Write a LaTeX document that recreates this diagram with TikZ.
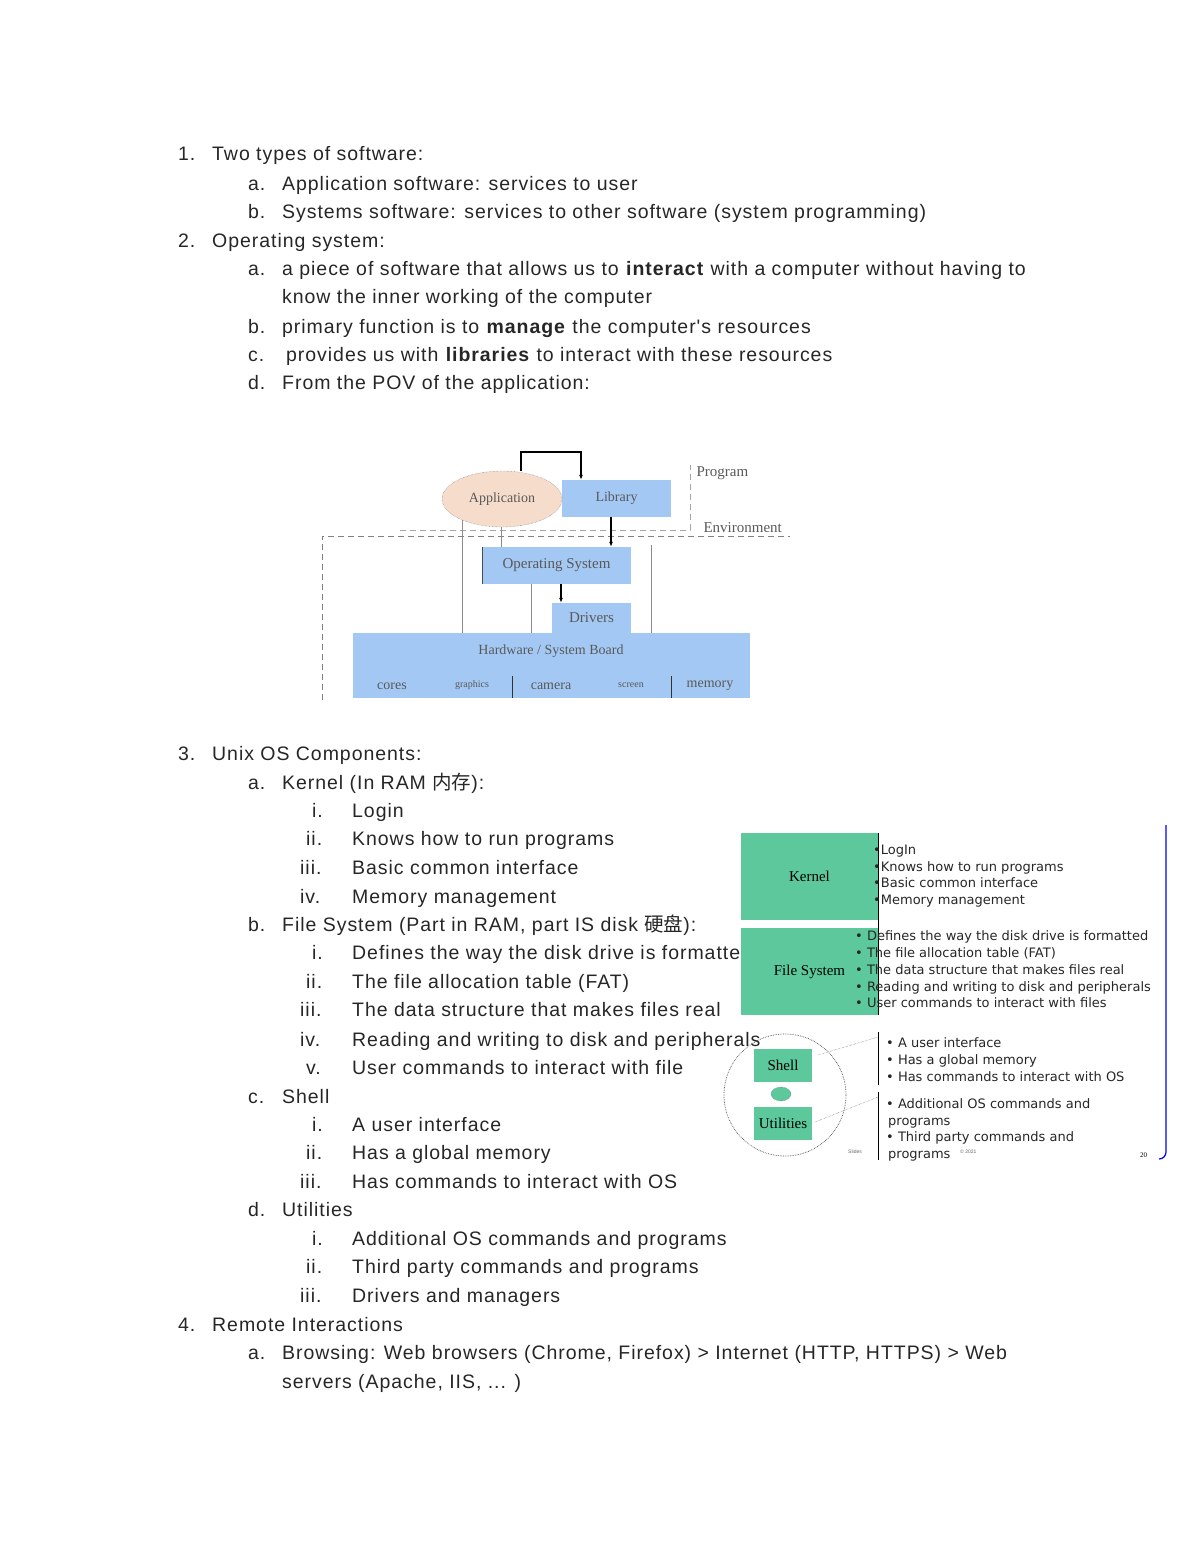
\documentclass[tikz,border=0pt]{standalone}
\usepackage{fontspec}
\usetikzlibrary{arrows.meta,shapes.geometric}
\setmainfont{Liberation Sans}
\newfontfamily\cjk{Noto Sans CJK SC}
\newfontfamily\serf{Liberation Serif}
\newfontfamily\dvs{DejaVu Sans}
\newfontfamily\wide[LetterSpace=4.9]{Liberation Sans}
\begin{document}
\begin{tikzpicture}[x=1pt,y=-1pt,
  txt/.style={anchor=base west,inner sep=0,font=\wide\fontsize{19.5}{23}\selectfont,text=black!85},
  blu/.style={fill={rgb,255:red,164;green,200;blue,244},draw=none},
  grn/.style={fill={rgb,255:red,92;green,200;blue,155},draw=none},
  srf/.style={font=\serf\fontsize{14}{16}\selectfont,text=black!65},
  blt/.style={anchor=base west,inner sep=0,font=\dvs\fontsize{13}{15}\selectfont,text=black!85},
  gl/.style={draw=black!45,line width=0.6pt},
  arr/.style={draw=black,line width=1.4pt,-{Latex[length=5pt,width=4pt]}}]
\useasboundingbox (0,0) rectangle (1200,1553);
% ---- text list
\node[txt] (n1) at (178,160) {1.};\node[txt] (t1) at (212,160) {Two types of software:};
\node[txt] (n1a) at (248,190) {a.};\node[txt] (t1a) at (282,190) {Application software: services to user};
\node[txt] (n1b) at (248,218) {b.};\node[txt] (t1b) at (282,218) {Systems software: services to other software (system programming)};
\node[txt] (n2) at (178,247) {2.};\node[txt] (t2) at (212,247) {Operating system:};
\node[txt] (n2a) at (248,275) {a.};\node[txt] (t2a) at (282,275) {a piece of software that allows us to \textbf{interact} with a computer without having to};
\node[txt] (t2a2) at (282,303) {know the inner working of the computer};
\node[txt] (n2b) at (248,333) {b.};\node[txt] (t2b) at (282,333) {primary function is to \textbf{manage} the computer's resources};
\node[txt] (n2c) at (248,361) {c.};\node[txt] (t2c) at (286,361) {provides us with \textbf{libraries} to interact with these resources};
\node[txt] (n2d) at (248,389) {d.};\node[txt] (t2d) at (282,389) {From the POV of the application:};
\node[txt] (n3) at (178,760) {3.};\node[txt] (t3) at (212,760) {Unix OS Components:};
\node[txt] (n3a) at (248,789) {a.};\node[txt] (t3a) at (282,789) {Kernel (In RAM {\cjk 内存}):};
\node[txt] (r1) at (312,817) {i.};\node[txt] (s1) at (352,817) {Login};
\node[txt] (r2) at (306,845) {ii.};\node[txt] (s2) at (352,845) {Knows how to run programs};
\node[txt] (r3) at (300,874) {iii.};\node[txt] (s3) at (352,874) {Basic common interface};
\node[txt] (r4) at (300,903) {iv.};\node[txt] (s4) at (352,903) {Memory management};
\node[txt] (n3b) at (248,931) {b.};\node[txt] (t3b) at (282,931) {File System (Part in RAM, part IS disk {\cjk 硬盘}):};
\node[txt] (r5) at (312,959) {i.};\node[txt] (s5) at (352,959) {Defines the way the disk drive is formatted};
\node[txt] (r6) at (306,988) {ii.};\node[txt] (s6) at (352,988) {The file allocation table (FAT)};
\node[txt] (r7) at (300,1016) {iii.};\node[txt] (s7) at (352,1016) {The data structure that makes files real};
\node[txt] (r8) at (300,1046) {iv.};\node[txt] (s8) at (352,1046) {Reading and writing to disk and peripherals};
\node[txt] (r9) at (306,1074) {v.};\node[txt] (s9) at (352,1074) {User commands to interact with file};
\node[txt] (n3c) at (248,1103) {c.};\node[txt] (t3c) at (282,1103) {Shell};
\node[txt] (r10) at (312,1131) {i.};\node[txt] (s10) at (352,1131) {A user interface};
\node[txt] (r11) at (306,1159) {ii.};\node[txt] (s11) at (352,1159) {Has a global memory};
\node[txt] (r12) at (300,1188) {iii.};\node[txt] (s12) at (352,1188) {Has commands to interact with OS};
\node[txt] (n3d) at (248,1216) {d.};\node[txt] (t3d) at (282,1216) {Utilities};
\node[txt] (r13) at (312,1245) {i.};\node[txt] (s13) at (352,1245) {Additional OS commands and programs};
\node[txt] (r14) at (306,1273) {ii.};\node[txt] (s14) at (352,1273) {Third party commands and programs};
\node[txt] (r15) at (300,1302) {iii.};\node[txt] (s15) at (352,1302) {Drivers and managers};
\node[txt] (n4) at (178,1331) {4.};\node[txt] (t4) at (212,1331) {Remote Interactions};
\node[txt] (n4a) at (248,1359) {a.};\node[txt] (t4a) at (282,1359) {Browsing: Web browsers (Chrome, Firefox) > Internet (HTTP, HTTPS) > Web};
\node[txt] (t4a2) at (282,1388) {servers (Apache, IIS, ... )};
% ---- diagram 1
\draw[black!50,line width=0.7pt,dash pattern=on 6pt off 4pt] (322,700) -- (322,536) -- (790,536);
\draw[black!35,line width=0.7pt,dash pattern=on 6pt off 4pt] (400,530) -- (690,530) -- (690,465);
\draw[gl] (462,517) -- (462,633);
\draw[gl] (501,527) -- (501,547);
\draw[gl] (531,584) -- (531,633);
\draw[gl] (651,545) -- (651,633);
\node[blu,minimum width=109pt,minimum height=37pt,srf] (lib) at (616.5,498.5) {Library};
\node[draw=black!60,densely dotted,fill={rgb,255:red,246;green,220;blue,203},ellipse,minimum width=120pt,minimum height=56pt,inner sep=0,srf] (app) at (502,499) {Application};
\node[blu,minimum width=149pt,minimum height=37pt,srf,font=\serf\fontsize{15}{17}\selectfont] (os) at (556.5,565.5) {Operating System};
\draw[black!70] (482,547) -- (482,584);
\node[blu,minimum width=79pt,minimum height=30pt,srf,font=\serf\fontsize{15}{17}\selectfont] (drv) at (591.5,618) {Drivers};
\node[blu,minimum width=397pt,minimum height=65pt] (hw) at (551.5,665.5) {};
\node[srf] (hwl) at (551,651) {Hardware / System Board};
\draw[black!80,line width=0.8pt] (512,676) -- (512,698) (671,676) -- (671,698);
\node[srf] (c1) at (392,686) {cores};
\node[srf,font=\serf\fontsize{10}{12}\selectfont] (c2) at (472,685) {graphics};
\node[srf] (c3) at (551,686) {camera};
\node[srf,font=\serf\fontsize{10}{12}\selectfont] (c4) at (631,685) {screen};
\node[srf] (c5) at (710,686) {memory};
\node[srf,anchor=west,font=\serf\fontsize{15}{17}\selectfont] (prog) at (693,473) {Program};
\node[srf,anchor=west,font=\serf\fontsize{15}{17}\selectfont] (env) at (700,528) {Environment};
\coordinate (a1) at (521,471);
\draw[arr] (a1) -- (521,452) -- (581,452) -- (lib.north -| 581,0);
\draw[arr] (611,517) -- (os.north -| 611,0);
\draw[arr] (561,584) -- (drv.north -| 561,0);
% ---- diagram 2
\node[grn,minimum width=137pt,minimum height=87pt,font=\serf\fontsize{15}{17}\selectfont] (ker) at (809.5,876.5) {Kernel};
\node[grn,minimum width=137pt,minimum height=87pt,font=\serf\fontsize{15}{17}\selectfont] (fs) at (809.5,971.5) {File System};
\draw[black,line width=1pt] (878,833) -- (878,1015);
\node[blt] (k1) at (873,854) {•LogIn};
\node[blt] (k2) at (873,871) {•Knows how to run programs};
\node[blt] (k3) at (873,887) {•Basic common interface};
\node[blt] (k4) at (873,904) {•Memory management};
\node[blt] (f1) at (855,940) {• Defines the way the disk drive is formatted};
\node[blt] (f2) at (855,957) {• The file allocation table (FAT)};
\node[blt] (f3) at (855,974) {• The data structure that makes files real};
\node[blt] (f4) at (855,991) {• Reading and writing to disk and peripherals};
\node[blt] (f5) at (855,1007) {• User commands to interact with files};
\draw[black!70,densely dotted,line width=0.7pt] (785,1095) circle[radius=61pt];
\node[grn,minimum width=58pt,minimum height=33pt,font=\serf\fontsize{15}{17}\selectfont] (sh) at (783,1065.5) {Shell};
\node[grn,draw=black!60,densely dotted,ellipse,minimum width=20pt,minimum height=14pt,inner sep=0] (dot) at (781,1094) {};
\node[grn,minimum width=58pt,minimum height=33pt,font=\serf\fontsize{15}{17}\selectfont] (ut) at (783,1123.5) {Utilities};
\draw[black,line width=1pt] (878,1032) -- (878,1085) (878,1092) -- (878,1160);
\coordinate (e1) at (878,1037);\coordinate (e2) at (878,1097);
\draw[black!70,densely dotted] (818,1055) -- (e1);
\draw[black!70,densely dotted] (815,1122) -- (e2);
\node[blt] (s1b) at (886,1047) {• A user interface};
\node[blt] (s2b) at (886,1064) {• Has a global memory};
\node[blt] (s3b) at (886,1081) {• Has commands to interact with OS};
\node[blt] (u1) at (886,1108) {• Additional OS commands and};
\node[blt] (u2) at (888,1125) {programs};
\node[blt] (u3) at (886,1141) {• Third party commands and};
\node[blt] (u4) at (888,1158) {programs};
\node[anchor=base west,inner sep=0,font=\fontsize{5}{6}\selectfont,text=black!60] (ft) at (848,1153) {Slides};
\node[anchor=base west,inner sep=0,font=\fontsize{5}{6}\selectfont,text=black!60] (ft2) at (960,1153) {© 2021};
\node[anchor=base west,inner sep=0,font=\serf\fontsize{7}{8}\selectfont] (pg) at (1140,1157) {20};
\draw[blue,line width=1.2pt] (1166,825) -- (1166,1152) to[out=-90,in=0] (1159,1159);
\end{tikzpicture}
\end{document}
